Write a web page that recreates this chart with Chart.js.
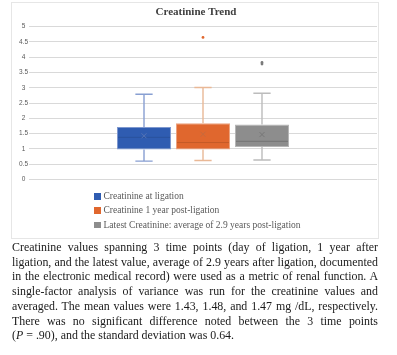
<!DOCTYPE html>
<html>
<head>
<meta charset="utf-8">
<script src="https://cdn.jsdelivr.net/npm/chart.js@4"></script>
<style>
  html, body { margin: 0; padding: 0; background: #fff; }
  body { width: 397px; height: 355px; position: relative; overflow: hidden; }
  #frame { position: absolute; left: 11px; top: 2px; width: 366px; height: 235px; border: 1px solid #e6e6e6; }
  #wrap { position: absolute; left: 11px; top: 0px; width: 370px; height: 190px; }
  #legend { position: absolute; left: 94px; top: 189px; font-family: "Liberation Serif", serif; font-size: 9.5px; color: #595959; }
  .li { height: 14.3px; line-height: 14.3px; white-space: nowrap; }
  .sw { display: inline-block; width: 6.5px; height: 6.5px; margin-right: 3px; vertical-align: -0.5px; }
  #para { position: absolute; left: 12px; top: 240px; width: 366px; font-family: "Liberation Serif", serif; font-size: 11.9px; line-height: 14.7px; color: #1a1a1a; }
  #para div { text-align: justify; text-align-last: justify; white-space: nowrap; }
  #para div.last { text-align-last: left; }
</style>
</head>
<body>
<div id="frame"></div>
<div id="wrap"><canvas id="c"></canvas></div>
<div id="legend"></div>
<div id="para">
  <div>Creatinine values spanning 3 time points (day of ligation, 1 year after</div>
  <div>ligation, and the latest value, average of 2.9 years after ligation, documented</div>
  <div>in the electronic medical record) were used as a metric of renal function. A</div>
  <div>single-factor analysis of variance was run for the creatinine values and</div>
  <div>averaged. The mean values were 1.43, 1.48, and 1.47 mg /dL, respectively.</div>
  <div>There was no significant difference noted between the 3 time points</div>
  <div class="last">(<i>P</i> = .90), and the standard deviation was 0.64.</div>
</div>
<script>
// ---- data ----
const categories = ['Creatinine at ligation', 'Creatinine 1 year post-ligation', 'Latest Creatinine: average of 2.9 years post-ligation'];
const q1Values = [0.98, 0.98, 1.06];
const q3Values = [1.72, 1.84, 1.80];
const medianValues = [1.38, 1.21, 1.25];
const meanValues = [1.43, 1.48, 1.47];
const minValues = [0.60, 0.62, 0.64];
const maxValues = [2.79, 3.01, 2.82];
const outlierValues = [[], [4.65], [3.83, 3.78]];
const tickLabels = ['0', '0.5', '1', '1.5', '2', '2.5', '3', '3.5', '4', '4.5', '5'];
const chartTitle = 'Creatinine Trend';

// ---- styles ----
const fillColors = ['#2f5cb1', '#e0672e', '#8d8d8d'];
const borderColors = ['#7e98cf', '#eca27e', '#b5b5b5'];
const whiskerColors = ['#889fd2', '#e9b896', '#bcbcbc'];
const medianColors = ['#2a519c', '#c55a28', '#747474'];
const meanColors = ['#5473b5', '#c66a3e', '#777777'];
const outlierColors = ['#2f5cb1', '#e0672e', '#7a7a7a'];

const datasets = categories.map((name, i) => ({
  label: name,
  data: [[q1Values[i], q3Values[i]]],
  backgroundColor: fillColors[i],
  borderColor: borderColors[i],
  borderWidth: 1,
  borderSkipped: false,
  categoryPercentage: 0.5086,
  barPercentage: 0.915
}));

const boxPlugin = {
  id: 'boxParts',
  afterDatasetsDraw(chart) {
    const ctx = chart.ctx;
    const y = chart.scales.y;
    categories.forEach((_, i) => {
      const bar = chart.getDatasetMeta(i).data[0];
      if (!bar) return;
      const x = bar.x;
      const half = bar.width / 2;
      ctx.save();
      ctx.strokeStyle = whiskerColors[i];
      ctx.lineWidth = 1.4;
      const yMax = y.getPixelForValue(maxValues[i]);
      const yMin = y.getPixelForValue(minValues[i]);
      const yQ1 = y.getPixelForValue(q1Values[i]);
      const yQ3 = y.getPixelForValue(q3Values[i]);
      const cap = bar.width * 0.16;
      ctx.beginPath();
      ctx.moveTo(x, yQ3); ctx.lineTo(x, yMax);
      ctx.moveTo(x, yQ1); ctx.lineTo(x, yMin);
      ctx.moveTo(x - cap, yMax); ctx.lineTo(x + cap, yMax);
      ctx.moveTo(x - cap, yMin); ctx.lineTo(x + cap, yMin);
      ctx.stroke();
      const yMed = y.getPixelForValue(medianValues[i]);
      ctx.strokeStyle = medianColors[i];
      ctx.lineWidth = 1;
      ctx.beginPath();
      ctx.moveTo(x - half + 1, yMed); ctx.lineTo(x + half - 1, yMed);
      ctx.stroke();
      const yMean = y.getPixelForValue(meanValues[i]);
      const s = 2.5;
      ctx.strokeStyle = meanColors[i];
      ctx.lineWidth = 1;
      ctx.beginPath();
      ctx.moveTo(x - s, yMean - s); ctx.lineTo(x + s, yMean + s);
      ctx.moveTo(x + s, yMean - s); ctx.lineTo(x - s, yMean + s);
      ctx.stroke();
      ctx.fillStyle = outlierColors[i];
      outlierValues[i].forEach(v => {
        ctx.beginPath();
        ctx.arc(x, y.getPixelForValue(v), 1.4, 0, Math.PI * 2);
        ctx.fill();
      });
      ctx.restore();
    });
  }
};

new Chart(document.getElementById('c'), {
  type: 'bar',
  data: { labels: [''], datasets },
  plugins: [boxPlugin],
  options: {
    responsive: true,
    maintainAspectRatio: false,
    animation: false,
    layout: { padding: { left: 4, right: 4, top: 0, bottom: 10.5 } },
    plugins: {
      legend: { display: false },
      tooltip: { enabled: false },
      title: {
        display: true,
        text: chartTitle,
        color: '#404040',
        font: { family: '"Liberation Serif", serif', size: 11, weight: 'bold', lineHeight: 1.2 },
        padding: { top: 6, bottom: 7.5 }
      }
    },
    scales: {
      x: { display: false, grid: { display: false } },
      y: {
        min: 0, max: 5,
        afterFit(scale) { scale.width = 14; },
        border: { display: false },
        grid: { color: '#d9d9d9', lineWidth: 1, drawTicks: false },
        ticks: {
          stepSize: 0.5,
          padding: 1,
          crossAlign: 'center',
          color: '#595959',
          font: { family: '"Liberation Sans", sans-serif', size: 6.5 },
          callback: (v, idx) => tickLabels[idx]
        }
      }
    }
  }
});

const lg = document.getElementById('legend');
categories.forEach((name, i) => {
  const d = document.createElement('div');
  d.className = 'li';
  const sw = document.createElement('span');
  sw.className = 'sw';
  sw.style.background = fillColors[i];
  d.appendChild(sw);
  d.appendChild(document.createTextNode(name));
  lg.appendChild(d);
});
</script>
</body>
</html>
